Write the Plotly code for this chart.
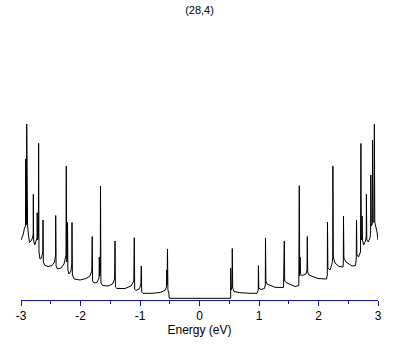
import plotly.graph_objects as go

# Energy (eV) and DOS (arb. units)
energy = [
    -3.000, -2.966, -2.941, -2.924, -2.921, -2.916, -2.908, -2.904, -2.899, -2.894,
    -2.889, -2.874, -2.857, -2.832, -2.807, -2.795, -2.793, -2.788, -2.770, -2.748,
    -2.731, -2.728, -2.721, -2.708, -2.704, -2.698, -2.681, -2.655, -2.634, -2.630,
    -2.624, -2.605, -2.546, -2.479, -2.437, -2.418, -2.417, -2.410, -2.387, -2.328,
    -2.277, -2.244, -2.239, -2.232, -2.222, -2.218, -2.212, -2.193, -2.160, -2.146,
    -2.143, -2.136, -2.109, -2.008, -1.908, -1.840, -1.810, -1.803, -1.797, -1.773,
    -1.723, -1.689, -1.684, -1.677, -1.667, -1.664, -1.657, -1.630, -1.538, -1.462,
    -1.427, -1.420, -1.413, -1.387, -1.252, -1.151, -1.104, -1.096, -1.089, -1.067,
    -1.008, -0.985, -0.978, -0.971, -0.950, -0.798, -0.664, -0.580, -0.555, -0.551,
    -0.545, -0.538, -0.531, -0.516, -0.508,
    0.524, 0.524, 0.531, 0.546, 0.551, 0.558, 0.580, 0.681, 0.849, 0.966,
    0.987, 0.990, 0.997, 1.034, 1.092, 1.106, 1.109, 1.116, 1.134, 1.269,
    1.412, 1.425, 1.432, 1.454, 1.605, 1.669, 1.677, 1.684, 1.691, 1.697,
    1.723, 1.790, 1.807, 1.812, 1.818, 1.840, 1.992, 2.134, 2.148, 2.151,
    2.158, 2.193, 2.227, 2.239, 2.242, 2.249, 2.277, 2.345, 2.412, 2.417,
    2.420, 2.427, 2.462, 2.563, 2.622, 2.635, 2.639, 2.645, 2.672, 2.706,
    2.713, 2.719, 2.729, 2.733, 2.739, 2.758, 2.790, 2.802, 2.805, 2.812,
    2.835, 2.866, 2.876, 2.879, 2.886, 2.904, 2.909, 2.916, 2.933, 2.939,
    2.946, 2.961, 2.983, 3.000,
]
dos = [
    0.583, 0.633, 0.703, 0.723, 1.393, 0.733, 0.743, 1.743, 0.763, 1.233,
    0.723, 0.633, 0.558, 0.573, 0.603, 0.643, 1.040, 0.583, 0.533, 0.563,
    0.603, 0.856, 0.583, 0.623, 1.550, 0.463, 0.393, 0.403, 0.463, 0.783,
    0.363, 0.333, 0.318, 0.328, 0.363, 0.433, 0.828, 0.323, 0.293, 0.303,
    0.343, 0.433, 1.323, 0.363, 0.403, 0.763, 0.283, 0.243, 0.273, 0.343,
    0.758, 0.233, 0.193, 0.183, 0.198, 0.223, 0.273, 0.618, 0.173, 0.153,
    0.158, 0.203, 0.413, 0.223, 0.283, 1.123, 0.153, 0.128, 0.123, 0.143,
    0.193, 0.573, 0.113, 0.098, 0.098, 0.123, 0.173, 0.606, 0.093, 0.078,
    0.098, 0.143, 0.323, 0.063, 0.050, 0.050, 0.058, 0.078, 0.113, 0.283,
    0.133, 0.493, 0.083, 0.053, 0.000,
    0.000, 0.303, 0.083, 0.113, 0.498, 0.103, 0.068, 0.056, 0.050, 0.050,
    0.083, 0.326, 0.103, 0.088, 0.098, 0.133, 0.603, 0.173, 0.143, 0.110,
    0.108, 0.573, 0.173, 0.158, 0.118, 0.128, 1.126, 0.223, 0.413, 0.243,
    0.228, 0.243, 0.283, 0.618, 0.263, 0.233, 0.198, 0.193, 0.233, 0.763,
    0.303, 0.283, 0.343, 0.403, 1.323, 0.413, 0.353, 0.318, 0.313, 0.363,
    0.823, 0.403, 0.363, 0.323, 0.328, 0.403, 0.783, 0.443, 0.413, 0.463,
    1.548, 0.583, 0.623, 0.823, 0.583, 0.533, 0.573, 0.623, 1.040, 0.583,
    0.563, 0.603, 0.663, 1.233, 0.723, 0.743, 1.583, 0.763, 0.763, 1.743,
    0.763, 0.723, 0.663, 0.583,
]
tick_vals = [-3, -2, -1, 0, 1, 2, 3]
tick_text = ["-3", "-2", "-1", "0", "1", "2", "3"]
title_text = "(28,4)"
x_title = "Energy (eV)"

fig = go.Figure(go.Scatter(x=energy, y=dos, mode="lines",
                           line=dict(color="black", width=1),
                           hoverinfo="skip"))
fig.update_layout(
    width=409, height=345,
    margin=dict(l=21, r=31, t=20, b=45),
    paper_bgcolor="white", plot_bgcolor="white",
    showlegend=False,
    font=dict(family="Liberation Sans, Arial, sans-serif", size=12, color="black"),
    title=dict(text=title_text, x=0.5, xref="paper", xanchor="center",
               y=0.971, yref="container", yanchor="middle",
               font=dict(size=11, color="black")),
)
fig.update_xaxes(
    range=[-3, 3], tickvals=tick_vals, ticktext=tick_text,
    showline=True, linecolor="#1010c8", linewidth=1,
    ticks="outside", ticklen=5, tickcolor="#1010c8", tickwidth=1,
    minor=dict(dtick=0.5, tick0=0, ticks="outside", ticklen=3,
               tickcolor="#1010c8", tickwidth=1, showgrid=False),
    showgrid=False, zeroline=False,
    title=dict(text=x_title, standoff=2, font=dict(size=12)),
    tickfont=dict(size=12),
)
fig.update_yaxes(visible=False, range=[-0.017, 2.783])
fig.write_html("out.html",
               config={"displayModeBar": False, "staticPlot": True},
               post_script="document.body.style.margin='0';document.body.style.overflow='hidden';")
